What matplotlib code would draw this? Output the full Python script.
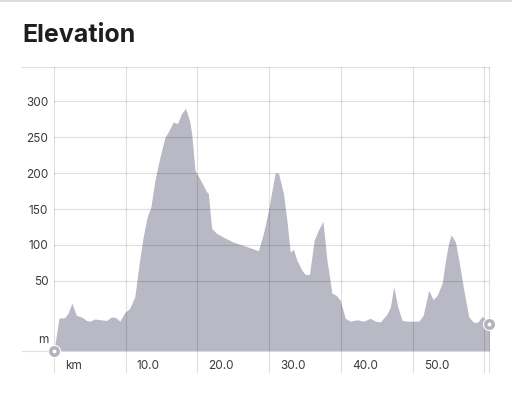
import matplotlib
matplotlib.use("Agg")
import matplotlib.pyplot as plt
from matplotlib.lines import Line2D

# ---- data ----
km = [0, 0.7, 1.5, 1.96, 2.5, 3.13, 3.83, 4.53, 5.0, 5.68, 7.32, 8.02, 8.62, 9.18,
      9.87, 10.57, 11.27, 11.87, 12.43, 12.99, 13.51, 14.07, 14.77, 15.47, 15.92,
      16.62, 17.23, 17.79, 18.35, 18.95, 19.19, 19.65, 20.11, 21.28, 21.51, 21.98,
      22.68, 23.6, 25.0, 27.09, 28.49, 29.19, 29.89, 30.82, 31.28, 31.98, 32.46,
      32.92, 33.38, 33.85, 34.55, 35.01, 35.61, 36.27, 36.87, 37.49, 38.04, 38.74,
      39.34, 39.9, 40.6, 41.3, 42.23, 43.16, 44.09, 44.79, 45.49, 46.42, 46.89,
      47.35, 47.91, 48.52, 49.22, 50.84, 51.45, 52.23, 52.85, 53.41, 54.11, 54.57,
      55.03, 55.36, 55.96, 56.42, 57.12, 57.82, 58.52, 59.08, 59.69, 60.15, 60.67]
elevation = [-47.5, -2, -1, 5, 19, 2, 0, -5, -6, -3, -5, 0, -1, -6, 6, 12, 28, 74,
             111, 139, 153, 190, 222, 250, 257, 271, 269, 283, 290, 271, 255, 204,
             196, 174, 172, 123, 116, 111, 104, 97, 92, 116, 148, 200, 200, 172, 135,
             90, 94, 79, 65, 59, 59, 107, 121, 133, 79, 33, 30, 23, -2, -6, -4, -6,
             -2, -6, -7, 4, 14, 42, 14, -5, -6, -6, 2, 37, 24, 30, 47, 79, 104, 114,
             104, 79, 37, 0, -8, -7, 1, -5, -10]
y_ticks = [50, 100, 150, 200, 250, 300]
y_tick_labels = ["50", "100", "150", "200", "250", "300"]
y_unit = "m"
x_ticks = [0, 10, 20, 30, 40, 50]
x_tick_labels = ["km", "10.0", "20.0", "30.0", "40.0", "50.0"]
x_grid = [0, 10, 20, 30, 40, 50, 60]
title = "Elevation"

y_min, y_max = -47.5, 348
x_max = km[-1]

plt.rcParams['font.family'] = ['Inter', 'DejaVu Sans']

W, H = 512, 397
fig = plt.figure(figsize=(W / 100, H / 100), dpi=100)
ax_l, ax_r, ax_t, ax_b = 53.95, 489.3, 66.7, 351.0
ax = fig.add_axes([ax_l / W, 1 - ax_b / H, (ax_r - ax_l) / W, (ax_b - ax_t) / H])
ax.set_xlim(0, x_max)
ax.set_ylim(y_min, y_max)
for s in ax.spines.values():
    s.set_visible(False)

fill_color = '#b9b9c6'
grid_color = (0, 0, 0, 0.13)

ax.fill_between(km, elevation, y_min, color=fill_color, lw=0, zorder=1)

left_ext = -(ax_l - 22) / (ax_r - ax_l)
down_ext = -(372 - ax_b) / (ax_b - ax_t)

# horizontal grid
for yv in y_ticks:
    ax.axhline(yv, 0, 1, color=grid_color, lw=0.8, zorder=2)
ax.axhline(y_max, left_ext, 1, color=grid_color, lw=0.8, zorder=2, clip_on=False)
ax.axhline(y_min, left_ext, 0, color=grid_color, lw=0.8, zorder=2, clip_on=False)
# vertical grid
for xv in x_grid + [x_max]:
    ax.axvline(xv, down_ext, 1, color=grid_color, lw=0.8, zorder=2, clip_on=False)

# ticks
ax.set_xticks([])
ax.set_yticks(y_ticks, y_tick_labels)
ax.tick_params(axis='y', length=0, pad=4.1, labelsize=8.5, labelcolor='#3a3a3a')
ax.annotate(y_unit, xy=(0, y_min), xycoords='data', xytext=(-4.1, 7.9),
            textcoords='offset points', ha='right', va='center', fontsize=8.5,
            color='#3a3a3a', annotation_clip=False)
for xv, lbl in zip(x_ticks, x_tick_labels):
    ax.annotate(lbl, xy=(xv, 0), xycoords=('data', 'axes fraction'), xytext=(8.0, -10.6),
                textcoords='offset points', ha='left', va='center', fontsize=8.5,
                color='#3a3a3a', annotation_clip=False)

# end markers
for xv, yv in [(km[0], y_min), (km[-1], elevation[-1])]:
    ax.plot([xv], [yv], marker='o', ms=9.5, mfc='white', mec='white', mew=0,
            zorder=5, clip_on=False)
    ax.plot([xv], [yv], marker='o', ms=5.4, mfc='white', mec='#b3b3bd', mew=2.5,
            zorder=6, clip_on=False)

fig.text(22.7 / W, 1 - 41.7 / H, title, fontsize=18, fontweight='bold',
         ha='left', va='baseline', color='#1e1e1e')
fig.add_artist(Line2D([0, 1], [1 - 1 / H, 1 - 1 / H], transform=fig.transFigure,
                      color='#d4d4d4', lw=1.2))

fig.savefig('out.png', dpi=100)
